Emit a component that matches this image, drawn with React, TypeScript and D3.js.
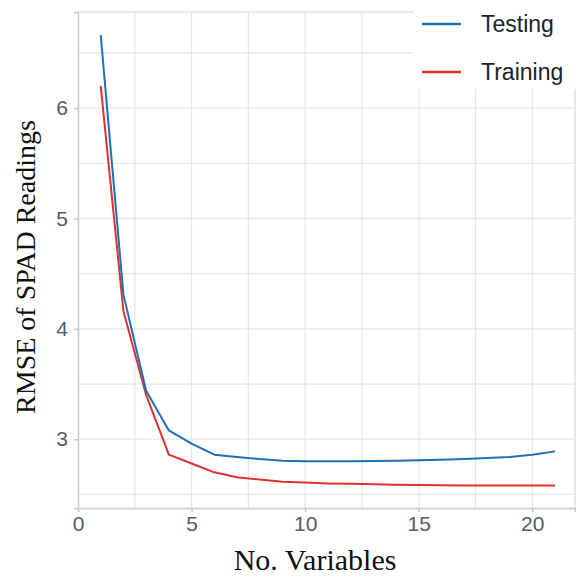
import React, { useRef, useEffect } from 'react';
import * as d3 from 'd3';

const numVars = [1, 2, 3, 4, 5, 6, 7, 8, 9, 10, 11, 12, 13, 14, 15, 16, 17, 18, 19, 20, 21];
const testing = [6.66, 4.31, 3.44, 3.08, 2.96, 2.86, 2.84, 2.82, 2.805, 2.80, 2.80, 2.80, 2.803, 2.806, 2.81, 2.813, 2.82, 2.83, 2.84, 2.86, 2.89];
const training = [6.20, 4.16, 3.40, 2.86, 2.78, 2.70, 2.655, 2.635, 2.615, 2.607, 2.60, 2.597, 2.592, 2.588, 2.585, 2.582, 2.581, 2.58, 2.58, 2.58, 2.58];
const xTicks = [0, 5, 10, 15, 20];
const yTicks = [3, 4, 5, 6];
const legendItems = [
  { name: 'Testing', color: '#1f6fb8' },
  { name: 'Training', color: '#e0312f' },
];

const W = 576;
const H = 577;

const LineChart = () => {
  const svgRef = useRef<SVGSVGElement>(null);

  useEffect(() => {
    const svg = d3.select(svgRef.current);
    svg.selectAll('*').remove();

    const left = 78, right = 575, top = 12, bottom = 508;

    const x = d3.scaleLinear().domain([0, 21.88]).range([left, right]);
    const y = d3.scaleLinear().domain([2.377, 6.87]).range([bottom, top]);

    svg.append('rect').attr('width', W).attr('height', H).attr('fill', 'white');

    // minor + major grid
    const g = svg.append('g');
    const xGrid = d3.range(2.5, 21.9, 2.5);
    const yGrid = d3.range(2.5, 6.9, 0.5);
    g.selectAll('.vg')
      .data(xGrid)
      .enter()
      .append('line')
      .attr('x1', d => x(d)).attr('x2', d => x(d))
      .attr('y1', top).attr('y2', bottom)
      .style('stroke', '#e6e6e6')
      .style('stroke-width', 1.2);
    g.selectAll('.hg')
      .data(yGrid)
      .enter()
      .append('line')
      .attr('x1', left).attr('x2', right)
      .attr('y1', d => y(d)).attr('y2', d => y(d))
      .style('stroke', '#e6e6e6')
      .style('stroke-width', 1.2);

    // frame
    svg.append('line').attr('x1', left).attr('x2', right).attr('y1', top).attr('y2', top)
      .style('stroke', '#e0e0e0').style('stroke-width', 1.5);
    svg.append('line').attr('x1', right).attr('x2', right).attr('y1', top).attr('y2', bottom)
      .style('stroke', '#e0e0e0').style('stroke-width', 1.5);

    // axes
    const xAxis = svg.append('g')
      .attr('transform', `translate(0,${bottom})`)
      .call(d3.axisBottom(x).tickValues(xTicks).tickFormat(d3.format('d')).tickSize(4).tickPadding(4));
    xAxis.select('.domain').style('stroke', '#cccccc').style('stroke-width', 1.5);
    xAxis.selectAll('.tick line').style('stroke', '#cccccc').style('stroke-width', 1.5);
    xAxis.selectAll('text')
      .style('font-family', 'Arial, "Liberation Sans", sans-serif')
      .style('font-size', '21px')
      .style('fill', '#555a66');

    const yAxis = svg.append('g')
      .attr('transform', `translate(${left},0)`)
      .call(d3.axisLeft(y).tickValues(yTicks).tickFormat(d3.format('d')).tickSize(4).tickPadding(6));
    yAxis.select('.domain').style('stroke', '#cccccc').style('stroke-width', 1.5);
    yAxis.selectAll('.tick line').style('stroke', '#cccccc').style('stroke-width', 1.5);
    yAxis.selectAll('text')
      .style('font-family', 'Arial, "Liberation Sans", sans-serif')
      .style('font-size', '21px')
      .style('fill', '#555a66');

    // lines
    const line = d3.line<number>()
      .x((d, i) => x(numVars[i]))
      .y(d => y(d));

    svg.append('path')
      .datum(training)
      .attr('d', line)
      .style('fill', 'none')
      .style('stroke', legendItems[1].color)
      .style('stroke-width', 2)
      .style('stroke-linejoin', 'round');
    svg.append('path')
      .datum(testing)
      .attr('d', line)
      .style('fill', 'none')
      .style('stroke', legendItems[0].color)
      .style('stroke-width', 2)
      .style('stroke-linejoin', 'round');

    // legend
    const legend = svg.append('g');
    legend.append('rect')
      .attr('x', 413).attr('y', 0).attr('width', W - 413).attr('height', 89)
      .style('fill', 'white');
    legendItems.forEach((item, i) => {
      const ly = 24 + i * 48;
      legend.append('line')
        .attr('x1', 422).attr('x2', 461).attr('y1', ly).attr('y2', ly)
        .style('stroke', item.color).style('stroke-width', 2.5);
      legend.append('text')
        .attr('x', 481).attr('y', ly)
        .attr('dy', '0.35em')
        .style('font-family', 'Arial, "Liberation Sans", sans-serif')
        .style('font-size', '23px')
        .style('fill', '#222')
        .text(item.name);
    });

    // titles
    svg.append('text')
      .attr('x', 315)
      .attr('y', 570)
      .attr('text-anchor', 'middle')
      .style('font-family', '"Liberation Serif", "Times New Roman", serif')
      .style('font-size', '30px')
      .style('fill', '#111')
      .text('No. Variables');

    svg.append('text')
      .attr('transform', `translate(35,267) rotate(-90)`)
      .attr('text-anchor', 'middle')
      .style('font-family', '"Liberation Serif", "Times New Roman", serif')
      .style('font-size', '28px')
      .style('fill', '#111')
      .text('RMSE of SPAD Readings');
  }, []);

  return <svg ref={svgRef} width={W} height={H} style={{ display: 'block' }}></svg>;
};

export default function App() {
  return (
    <div style={{ position: 'absolute', left: 0, top: 0 }}>
      <LineChart />
    </div>
  );
}
